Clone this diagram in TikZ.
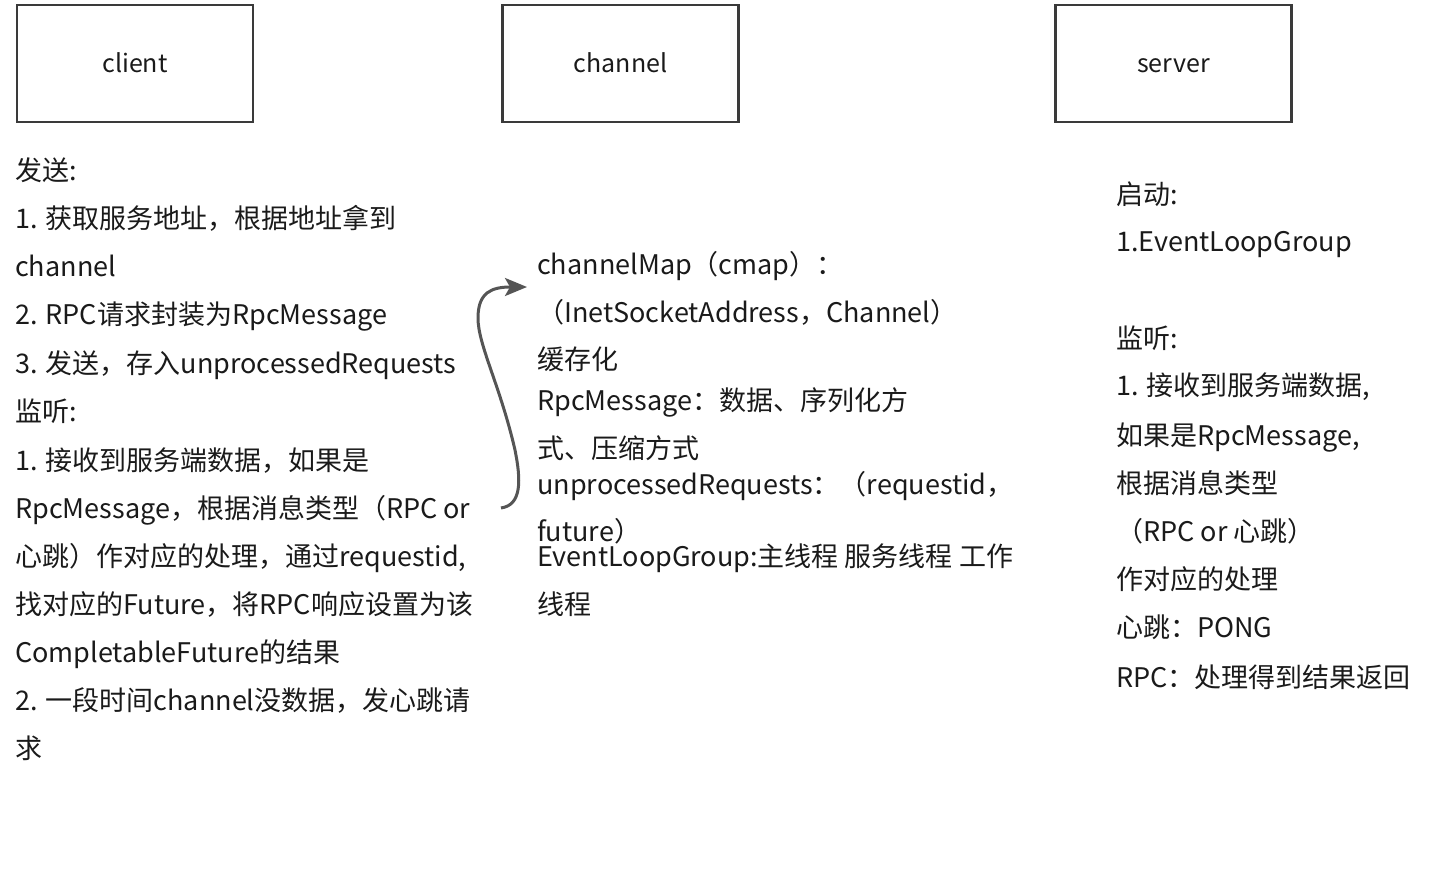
\documentclass[tikz,border=0pt]{standalone}
\usepackage{fontspec}
\setmainfont{Noto Sans CJK SC}
\usetikzlibrary{arrows.meta}
\definecolor{boxline}{HTML}{3A3A3A}
\definecolor{txt}{HTML}{1A1A1A}
\definecolor{arrowc}{HTML}{555555}
\tikzset{
  box/.style={draw=boxline, line width=2.4pt, minimum width=236pt, minimum height=117pt, inner sep=0pt, text height=22pt, text depth=3pt, font=\fontsize{25}{29}\selectfont, text=txt},
  ln/.style={anchor=west, inner sep=0pt, text height=23pt, text depth=3pt, font=\fontsize{27}{31}\selectfont, text=txt},
  conn/.style={draw=arrowc, line width=3pt, -{Stealth[length=22pt,width=18pt,inset=5pt]}}
}
\begin{document}
\begin{tikzpicture}[x=1pt,y=-1pt]
\useasboundingbox (0,0) rectangle (1433,875);
\node[box] (client) at (135,63.5) {client};
\node[box] (channel) at (620.5,63.5) {channel};
\node[box] (server) at (1173.5,63.5) {server};
% client column
\node[ln] (c1) at (15,170) {发送:};
\node[ln] (c2) at (15,218) {1. 获取服务地址，根据地址拿到};
\node[ln] (c3) at (15,266) {channel};
\node[ln] (c4) at (15,314) {2. RPC请求封装为RpcMessage};
\node[ln] (c5) at (15,363) {3. 发送，存入unprocessedRequests};
\node[ln] (c6) at (15,411) {监听:};
\node[ln] (c7) at (15,460) {1. 接收到服务端数据，如果是};
\node[ln] (c8) at (15,508) {RpcMessage，根据消息类型（RPC or};
\node[ln] (c9) at (15,556) {心跳）作对应的处理，通过requestid,};
\node[ln] (c10) at (15,604) {找对应的Future，将RPC响应设置为该};
\node[ln] (c11) at (15,652) {CompletableFuture的结果};
\node[ln] (c12) at (15,700) {2. 一段时间channel没数据，发心跳请};
\node[ln] (c13) at (15,748) {求};
% channel column
\node[ln] (m1) at (537,264) {channelMap（cmap）：};
\node[ln] (m2) at (537,312) {（InetSocketAddress，Channel）};
\node[ln] (m3) at (537,359) {缓存化};
\node[ln] (m4) at (537,400) {RpcMessage：数据、序列化方};
\node[ln] (m5) at (537,448) {式、压缩方式};
\node[ln] (m6) at (537,484) {unprocessedRequests：（requestid，};
\node[ln] (m7) at (537,531) {future）};
\node[ln] (m8) at (537,556) {EventLoopGroup:主线程 服务线程 工作};
\node[ln] (m9) at (537,604) {线程};
% server column
\node[ln] (s1) at (1116,194) {启动:};
\node[ln] (s2) at (1116,241) {1.EventLoopGroup};
\node[ln] (s3) at (1116,338) {监听:};
\node[ln] (s4) at (1116,385) {1. 接收到服务端数据,};
\node[ln] (s5) at (1116,435) {如果是RpcMessage,};
\node[ln] (s6) at (1116,483) {根据消息类型};
\node[ln] (s7) at (1116,531) {（RPC or 心跳）};
\node[ln] (s8) at (1116,579) {作对应的处理};
\node[ln] (s9) at (1116,627) {心跳：PONG};
\node[ln] (s10) at (1116,677) {RPC：处理得到结果返回};
% arrow
\coordinate (a0) at (501,508);
\coordinate (a1) at (527,287);
\draw[conn] (a0) .. controls (522,505) and (521,480) .. (515,450)
  .. controls (500,385) and (478,345) .. (478,318)
  .. controls (478,292) and (492,287) .. (a1);
\end{tikzpicture}
\end{document}
